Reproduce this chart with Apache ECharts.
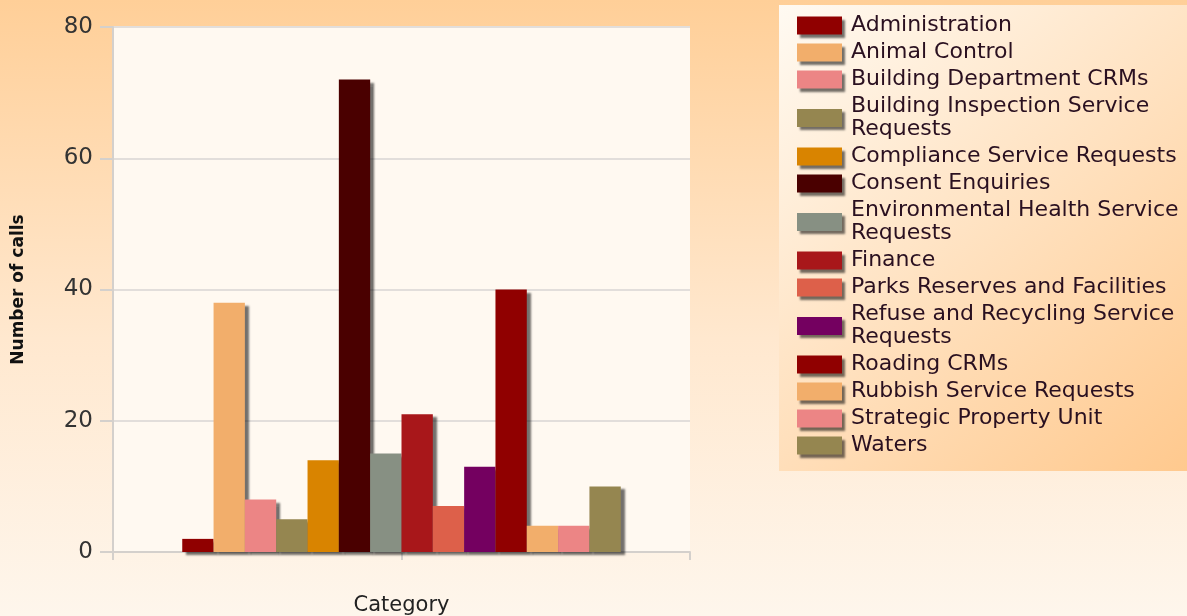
<!DOCTYPE html>
<html>
<head>
<meta charset="utf-8">
<script src="https://cdn.jsdelivr.net/npm/echarts@6/dist/echarts.min.js"></script>
<style>html,body{margin:0;padding:0;}#c{width:1187px;height:616px;}</style>
</head>
<body>
<div id="c"></div>
<script>
const seriesNames = ['Administration','Animal Control','Building Department CRMs','Building Inspection Service Requests','Compliance Service Requests','Consent Enquiries','Environmental Health Service Requests','Finance','Parks Reserves and Facilities','Refuse and Recycling Service Requests','Roading CRMs','Rubbish Service Requests','Strategic Property Unit','Waters'];
const seriesValues = [2, 38, 8, 5, 14, 72, 15, 21, 7, 13, 40, 4, 4, 10];
const seriesColors = ['#900000','#f2ae6b','#ec8585','#958650','#d98400','#4a0000','#879083','#a8171a','#dd604a','#740060','#900000','#f2ae6b','#ec8585','#958650'];
const categories = [''];
const yTicks = [0, 20, 40, 60, 80];

const font = 'DejaVu Sans';
const chart = echarts.init(document.getElementById('c'));
const series = seriesNames.map((n, i) => ({
  name: n, type: 'bar', data: [seriesValues[i]], xAxisIndex: 0,
  barGap: 0, barCategoryGap: '24%',
  itemStyle: { color: seriesColors[i], shadowColor: 'rgba(0,0,0,0.55)', shadowOffsetX: 4, shadowOffsetY: 3, shadowBlur: 2 },
  emphasis: { disabled: true }
}));
chart.setOption({
  animation: false,
  backgroundColor: { type: 'linear', x: 0, y: 0, x2: 0, y2: 1, colorStops: [{offset: 0, color: '#ffcf98'}, {offset: 0.55, color: '#ffe8cf'}, {offset: 1, color: '#fef6ec'}] },
  graphic: [{
    type: 'rect', left: 779, top: 5, z: -1,
    shape: { width: 408, height: 466 },
    style: { fill: { type: 'linear', x: 0, y: 0, x2: 1, y2: 1, colorStops: [{offset: 0, color: '#fffaf2'}, {offset: 1, color: '#ffc98e'}] } }
  }],
  grid: { left: 113, right: 497, top: 27, bottom: 64, show: true, backgroundColor: '#fff9f1', borderWidth: 0, outerBoundsMode: 'none', containLabel: false },
  legend: {
    orient: 'vertical', left: 797, top: 14, padding: 0, itemWidth: 45, itemHeight: 18, itemGap: 4,
    icon: 'rect',
    itemStyle: { shadowColor: 'rgba(0,0,0,0.55)', shadowOffsetX: 3, shadowOffsetY: 3, shadowBlur: 2 },
    textStyle: { fontFamily: font, fontSize: 22, lineHeight: 23, color: '#2a1020', width: 338, overflow: 'break', padding: [0,0,0,4] },
    data: seriesNames
  },
  xAxis: [{
    type: 'category', data: categories,
    name: 'Category', nameLocation: 'middle', nameGap: 43,
    nameTextStyle: { fontFamily: font, fontSize: 21, color: '#222' },
    axisLine: { lineStyle: { color: '#d4d0cc', width: 2 } },
    axisTick: { show: false }, axisLabel: { show: false }
  }, {
    type: 'category', data: ['a', 'b'], position: 'bottom', offset: 0,
    axisLine: { show: false }, axisLabel: { show: false },
    axisTick: { show: true, length: 8, lineStyle: { color: '#d4d0cc', width: 2 } }
  }],
  yAxis: {
    type: 'value', min: yTicks[0], max: yTicks[yTicks.length - 1], interval: 20,
    name: 'Number of calls', nameLocation: 'middle', nameGap: 86,
    nameTextStyle: { fontFamily: font, fontSize: 17, fontWeight: 'bold', color: '#111' },
    axisLine: { show: true, lineStyle: { color: '#d4d0cc', width: 2 } },
    axisTick: { show: true, length: 13, lineStyle: { color: '#d4d0cc', width: 2 } },
    axisLabel: { fontFamily: font, fontSize: 23, color: '#333', margin: 20 },
    splitLine: { lineStyle: { color: '#e2dedb', width: 2 } }
  },
  series: series
});
</script>
</body>
</html>
